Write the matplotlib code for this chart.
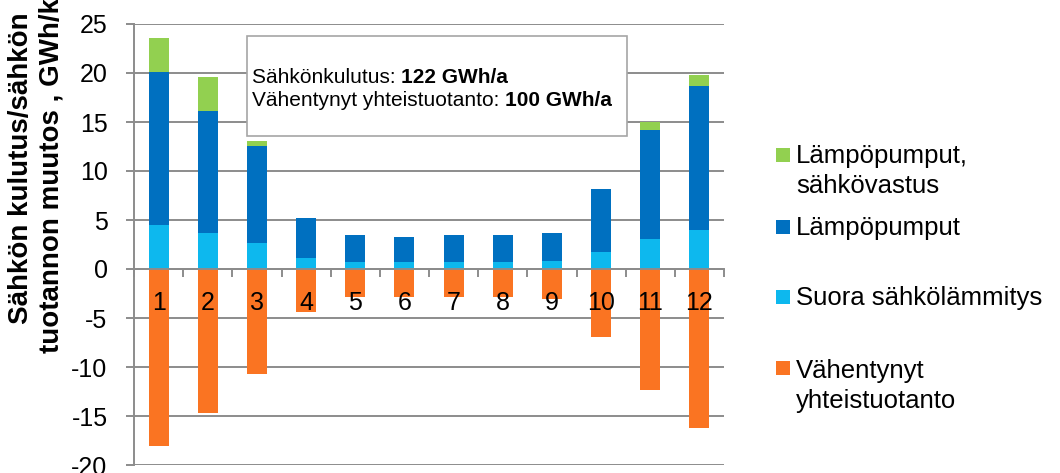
"""Sähkön kulutuksen ja vähentyneen yhteistuotannon kuukausimuutos (pinottu pylväs)."""
import matplotlib
matplotlib.use("Agg")
import matplotlib.pyplot as plt
from matplotlib.patches import Rectangle

plt.rcParams["font.family"] = ["Liberation Sans", "DejaVu Sans"]

months = ["1", "2", "3", "4", "5", "6", "7", "8", "9", "10", "11", "12"]
suora = [4.5, 3.7, 2.7, 1.1, 0.75, 0.7, 0.7, 0.7, 0.8, 1.7, 3.1, 4.0]
lampopumput = [15.6, 12.45, 9.8, 4.15, 2.75, 2.6, 2.75, 2.75, 2.85, 6.45, 11.1, 14.7]
sahkovastus = [3.5, 3.45, 0.55, 0.0, 0.0, 0.0, 0.0, 0.0, 0.0, 0.0, 0.85, 1.1]
yhteistuotanto = [-18.1, -14.7, -10.75, -4.4, -2.9, -2.85, -2.9, -2.9, -3.1, -6.9, -12.3, -16.2]

series_names = [["Lämpöpumput,", "sähkövastus"], ["Lämpöpumput"], ["Suora sähkölämmitys"],
                ["Vähentynyt", "yhteistuotanto"]]
colors = ["#92D050", "#0070C0", "#0DB8EE", "#FA7422"]
yticks = [-20, -15, -10, -5, 0, 5, 10, 15, 20, 25]
GRID = "#8C8C8C"

fig = plt.figure(figsize=(10.6, 4.73), dpi=100)
ax = fig.add_axes([134 / 1060, 1 - 465 / 473, 590 / 1060, 441 / 473])

x = list(range(1, len(months) + 1))
w = 0.41
ax.bar(x, suora, w, color=colors[2], zorder=2)
ax.bar(x, lampopumput, w, bottom=suora, color=colors[1], zorder=2)
base3 = [a + b for a, b in zip(suora, lampopumput)]
ax.bar(x, sahkovastus, w, bottom=base3, color=colors[0], zorder=2)
ax.bar(x, yhteistuotanto, w, color=colors[3], zorder=2)

ax.set_xlim(0.5, 12.5)
ax.set_ylim(-20, 25)
ax.set_yticks(yticks)
ax.set_yticklabels([str(v) for v in yticks], fontsize=18)
ax.yaxis.grid(True, color=GRID, lw=1.4, zorder=0)
ax.set_axisbelow(True)
ax.tick_params(axis="y", length=6, width=1.4, color=GRID, pad=13)

# x-akseli nollassa: rajaviivat kuukausien välissä
ax.spines["bottom"].set_position(("data", 0))
ax.spines["bottom"].set_color(GRID)
ax.spines["bottom"].set_linewidth(1.4)
ax.set_xticks([v + 0.5 for v in range(0, 13)])
ax.set_xticklabels([])
ax.tick_params(axis="x", which="major", length=6, width=1.4, color=GRID, direction="out")
for s in ("top", "right"):
    ax.spines[s].set_visible(False)
ax.spines["left"].set_color(GRID)
ax.spines["left"].set_linewidth(1.4)

# kuukausien nimet pylväiden päälle
for xi, m in zip(x, months):
    ax.annotate(m, (xi, 0), xytext=(0, -16), textcoords="offset points", ha="center",
                va="top", fontsize=18, zorder=5)

# tekstilaatikko
ax.add_patch(Rectangle(((247 - 134) / 590, 1 - (136 - 24) / 441), (627 - 247) / 590,
                       (136 - 36) / 441, transform=ax.transAxes, facecolor="white",
                       edgecolor="#A6A6A6", lw=1.2, zorder=3))
fig.canvas.draw()
r = fig.canvas.get_renderer()
inv = ax.transAxes.inverted()
x0 = (252 - 134) / 590
for txt, bold, yy in [("Sähkönkulutus: ", "122 GWh/a", 83), ("Vähentynyt yhteistuotanto: ", "100 GWh/a", 106)]:
    t = ax.text(x0, 1 - (yy - 24) / 441, txt, transform=ax.transAxes, fontsize=15,
                va="baseline", ha="left", zorder=4)
    bb = t.get_window_extent(r)
    x1 = inv.transform((bb.x1, bb.y0))[0]
    ax.text(x1, 1 - (yy - 24) / 441, bold, transform=ax.transAxes, fontsize=15,
            fontweight="bold", va="baseline", ha="left", zorder=4)

# y-akselin otsikko (leikkautuu yläreunasta kuten alkuperäisessä)
fig.text(0.034, 0.645, "Sähkön kulutus/sähkön\ntuotannon muutos , GWh/kk", rotation=90,
         ha="center", va="center", fontsize=20, fontweight="bold", linespacing=1.2)

# selite
leg_sq = [155, 227, 297, 368]
leg_base = [[163, 193], [235], [305], [378, 408]]
for lines, c, yy, bases in zip(series_names, colors, leg_sq, leg_base):
    fig.add_artist(Rectangle((776 / 1060, 1 - (yy + 7) / 473), 14 / 1060, 14 / 473,
                             transform=fig.transFigure, facecolor=c, edgecolor="none"))
    for line, b in zip(lines, bases):
        fig.text(796 / 1060, 1 - b / 473, line, fontsize=18.5, ha="left", va="baseline")

fig.savefig("out.png", dpi=100)
